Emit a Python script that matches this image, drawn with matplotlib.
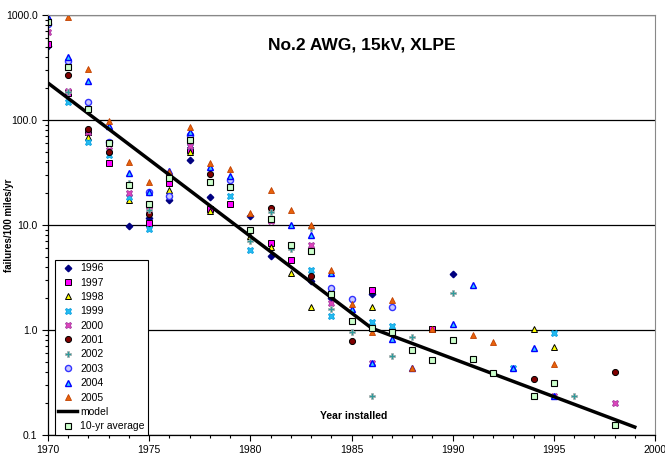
"""
Failure rate vs. year installed, No.2 AWG 15kV XLPE cable.
"""

import matplotlib
matplotlib.use('Agg')
import matplotlib.pyplot as plt
from matplotlib.ticker import MultipleLocator, FormatStrFormatter

plt.rcParams['font.family'] = ['Liberation Sans', 'DejaVu Sans']

# ---- data ----
years_1996 = [1970, 1974, 1975, 1976, 1977, 1978, 1980, 1981, 1983, 1984, 1986, 1990]
vals_1996 = [505, 9.8, 11.7, 17.3, 42, 18.5, 12.2, 5.1, 2.9, 2.0, 2.2, 3.4]

years_1997 = [1970, 1971, 1972, 1973, 1975, 1976, 1977, 1978, 1979, 1981, 1982, 1986, 1989]
vals_1997 = [530, 180, 77, 39, 10.5, 25, 52, 14.2, 15.8, 6.7, 4.6, 2.4, 1.03]

years_1998 = [1972, 1974, 1976, 1977, 1978, 1980, 1981, 1982, 1983, 1986, 1994, 1995]
vals_1998 = [69, 17.4, 21.5, 50, 13.5, 7.9, 6.2, 3.5, 1.66, 1.67, 1.02, 0.69]

years_1999 = [1971, 1972, 1973, 1974, 1975, 1977, 1979, 1980, 1983, 1984, 1986, 1987, 1993, 1995]
vals_1999 = [148, 62, 46, 18.5, 9.2, 57, 19, 5.8, 3.7, 1.36, 1.19, 1.09, 0.43, 0.94]

years_2000 = [1970, 1971, 1972, 1973, 1974, 1975, 1977, 1981, 1983, 1984, 1986, 1995, 1998]
vals_2000 = [690, 189, 77, 52, 20, 14, 56, 11, 6.5, 1.8, 0.48, 0.235, 0.20]

years_2001 = [1971, 1972, 1973, 1975, 1977, 1978, 1981, 1983, 1985, 1994, 1998]
vals_2001 = [268, 82, 50, 12.8, 70, 30.5, 14.5, 3.3, 0.79, 0.34, 0.40]

years_2002 = [1970, 1971, 1974, 1975, 1976, 1977, 1980, 1981, 1982, 1983, 1984, 1985,
              1986, 1987, 1988, 1990, 1996]
vals_2002 = [850, 185, 25, 14, 28, 68, 7.1, 13.2, 5.9, 9.4, 1.6, 0.96,
             0.235, 0.56, 0.86, 2.25, 0.235]

years_2003 = [1970, 1971, 1972, 1973, 1975, 1976, 1977, 1979, 1984, 1985, 1987]
vals_2003 = [820, 365, 148, 62, 20.8, 19, 72, 27, 2.5, 1.97, 1.67]

years_2004 = [1970, 1971, 1972, 1973, 1974, 1975, 1976, 1977, 1978, 1979, 1982, 1983,
              1984, 1985, 1986, 1987, 1988, 1990, 1991, 1993, 1994, 1995]
vals_2004 = [960, 400, 235, 88, 31, 20.6, 33, 77, 36, 29, 10, 8.1,
             3.5, 1.58, 0.48, 0.82, 0.43, 1.14, 2.7, 0.43, 0.67, 0.235]

years_2005 = [1971, 1972, 1973, 1974, 1975, 1976, 1977, 1978, 1979, 1980, 1981, 1982,
              1983, 1984, 1985, 1986, 1987, 1988, 1989, 1991, 1992, 1995]
vals_2005 = [955, 306, 98, 40, 25.6, 32, 86, 39, 34, 13, 21.5, 14,
             10, 3.7, 1.76, 0.96, 1.93, 0.43, 1.03, 0.9, 0.77, 0.47]

years_avg = [1970, 1971, 1972, 1973, 1974, 1975, 1976, 1977, 1978, 1979, 1980, 1981,
             1982, 1983, 1984, 1985, 1986, 1987, 1988, 1989, 1990, 1991, 1992, 1994,
             1995, 1998]
vals_avg = [860, 320, 127, 60, 24, 15.8, 28, 64, 25.6, 23, 9.0, 11.5,
            6.5, 5.6, 2.2, 1.22, 1.05, 0.96, 0.64, 0.52, 0.80, 0.53, 0.39, 0.235,
            0.31, 0.125]

model_years = [1970, 1986, 1999]
model_vals = [225, 1.04, 0.119]

fig = plt.figure(figsize=(6.65, 4.54), dpi=100)
ax = fig.add_axes([48 / 665, 1 - 435 / 454, 607 / 665, 420 / 454])

ms = 4.4
ax.plot(years_1996, vals_1996, ls='none', marker='D', ms=3.3, mfc='#000080', mec='#000080', label='1996')
ax.plot(years_1997, vals_1997, ls='none', marker='s', ms=ms, mfc='#FF00FF', mec='black', mew=0.7, label='1997')
ax.plot(years_1998, vals_1998, ls='none', marker='^', ms=ms, mfc='#FFFF00', mec='black', mew=0.7, label='1998')
ax.plot(years_1999, vals_1999, ls='none', marker='X', ms=5, mfc='#22BBF0', mec='#0099DD', mew=0.5, label='1999')
ax.plot(years_2000, vals_2000, ls='none', marker='X', ms=5, mfc='#DD44BB', mec='#993399', mew=0.5, label='2000')
ax.plot(years_2001, vals_2001, ls='none', marker='o', ms=ms, mfc='#800000', mec='black', mew=0.7, label='2001')
ax.plot(years_2002, vals_2002, ls='none', marker='P', ms=4.6, mfc='#2E9B9B', mec='#AAAAAA', mew=0.5, label='2002')
ax.plot(years_2003, vals_2003, ls='none', marker='o', ms=ms, mfc='#C8C8FF', mec='#3333FF', mew=1.0, label='2003')
ax.plot(years_2004, vals_2004, ls='none', marker='^', ms=4.8, mfc='#33CCFF', mec='#0000FF', mew=1.0, label='2004')
ax.plot(years_2005, vals_2005, ls='none', marker='^', ms=4.8, mfc='#E8620A', mec='#C04000', mew=0.6, label='2005')
ax.plot(model_years, model_vals, color='black', lw=2.5, label='model')
ax.plot(years_avg, vals_avg, ls='none', marker='s', ms=ms, mfc='#CCFFCC', mec='black', mew=0.8, label='10-yr average')

ax.set_yscale('log')
ax.set_ylim(0.1, 1000)
ax.set_xlim(1970, 2000)
ax.yaxis.set_major_formatter(FormatStrFormatter('%.1f'))
ax.xaxis.set_major_locator(MultipleLocator(5))
ax.xaxis.set_minor_locator(MultipleLocator(1))
ax.tick_params(axis='both', which='major', labelsize=7.5, direction='out', length=4, width=0.8)
ax.tick_params(axis='both', which='minor', direction='out', length=2.5, width=0.8)
ax.tick_params(axis='y', which='minor', labelleft=False)

ax.grid(True, which='major', axis='y', color='black', lw=0.9)
for s in ['top', 'right']:
    ax.spines[s].set_color('#888888')
ax.spines['left'].set_linewidth(0.9)
ax.spines['bottom'].set_linewidth(0.9)

ax.set_ylabel('failures/100 miles/yr', fontsize=7, fontweight='bold')
ax.yaxis.set_label_coords(-34 / 607, 0.5)
ax.text(0.517, 0.929, 'No.2 AWG, 15kV, XLPE', transform=ax.transAxes,
        ha='center', va='center', fontsize=12.5, fontweight='bold')
ax.text(1985.1, 0.152, 'Year installed', ha='center', va='center', fontsize=7.5, fontweight='bold')

leg = ax.legend(loc='lower left', bbox_to_anchor=(0.011, 0.0), fontsize=7.5,
                frameon=True, fancybox=False, edgecolor='black', framealpha=1,
                handlelength=1.8, handletextpad=0.3, labelspacing=0.42,
                borderpad=0.35, borderaxespad=0)
leg.get_frame().set_linewidth(0.8)

plt.savefig('out.png', dpi=100)
